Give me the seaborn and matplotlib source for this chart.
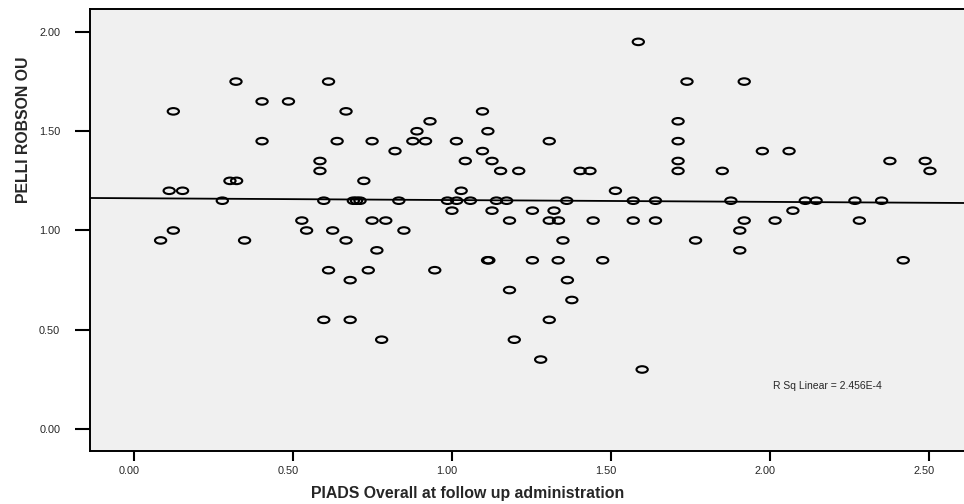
import numpy as np
import pandas as pd
import matplotlib
matplotlib.use("Agg")
import matplotlib.pyplot as plt
import matplotlib.transforms as mtransforms
from matplotlib.path import Path
import seaborn as sns

# ---- data ----
piads = [0.321, 0.403, 0.486, 0.124, 0.403, 0.585, 0.585, 0.302, 0.323, 0.111,
         0.153, 0.278, 0.597, 0.528, 0.543, 0.124, 0.084, 0.348, 0.625, 0.612,
         0.597, 0.612, 0.667, 0.931, 0.890, 1.113, 1.096, 0.639, 0.749, 0.877,
         0.917, 1.014, 1.306, 0.821, 1.096, 1.042, 1.126, 1.153, 1.210, 1.403,
         1.434, 0.723, 1.029, 1.514, 0.690, 0.700, 0.711, 0.833, 0.986, 1.015,
         1.058, 1.140, 1.172, 1.361, 1.000, 1.126, 1.253, 1.321, 0.749, 0.792,
         1.181, 1.306, 1.335, 1.444, 0.849, 0.667, 1.349, 0.764, 1.112, 1.116,
         1.253, 1.334, 1.474, 0.737, 0.946, 0.680, 1.363, 1.181, 1.377, 0.680,
         1.306, 0.779, 1.196, 1.279, 1.586, 1.739, 1.919, 1.711, 1.711, 1.976,
         2.060, 1.711, 1.711, 1.850, 2.377, 2.488, 2.503, 1.570, 1.640, 1.877,
         2.111, 2.145, 2.267, 2.351, 2.072, 1.570, 1.640, 1.919, 2.016, 2.281,
         1.905, 1.766, 1.905, 2.419, 1.598]
pelli = [1.75, 1.65, 1.65, 1.60, 1.45, 1.35, 1.30, 1.25, 1.25, 1.20,
         1.20, 1.15, 1.15, 1.05, 1.00, 1.00, 0.95, 0.95, 1.00, 0.80,
         0.55, 1.75, 1.60, 1.55, 1.50, 1.50, 1.60, 1.45, 1.45, 1.45,
         1.45, 1.45, 1.45, 1.40, 1.40, 1.35, 1.35, 1.30, 1.30, 1.30,
         1.30, 1.25, 1.20, 1.20, 1.15, 1.15, 1.15, 1.15, 1.15, 1.15,
         1.15, 1.15, 1.15, 1.15, 1.10, 1.10, 1.10, 1.10, 1.05, 1.05,
         1.05, 1.05, 1.05, 1.05, 1.00, 0.95, 0.95, 0.90, 0.85, 0.85,
         0.85, 0.85, 0.85, 0.80, 0.80, 0.75, 0.75, 0.70, 0.65, 0.55,
         0.55, 0.45, 0.45, 0.35, 1.95, 1.75, 1.75, 1.55, 1.45, 1.40,
         1.40, 1.35, 1.30, 1.30, 1.35, 1.35, 1.30, 1.15, 1.15, 1.15,
         1.15, 1.15, 1.15, 1.15, 1.10, 1.05, 1.05, 1.05, 1.05, 1.05,
         1.00, 0.95, 0.90, 0.85, 0.30]
x_ticks = [0.0, 0.5, 1.0, 1.5, 2.0, 2.5]
y_ticks = [0.0, 0.5, 1.0, 1.5, 2.0]
x_label = "PIADS Overall at follow up administration"
y_label = "PELLI ROBSON OU"
rsq_text = "R Sq Linear = 2.456E-4"

df = pd.DataFrame({"x": piads, "y": pelli})

sns.set_style("white")
plt.rcParams["font.family"] = ["Liberation Sans", "DejaVu Sans"]

fig = plt.figure(figsize=(9.64, 5.04), dpi=100)
ax = fig.add_axes([90 / 964, 1 - 450.7 / 504, 1 - 90 / 964, (450.7 - 9.5) / 504])
ax.set_facecolor("#f0f0f0")
ax.set_xlim(-0.138, 2.61)
ax.set_ylim(-0.109, 2.113)

ellipse = Path.unit_circle().transformed(mtransforms.Affine2D().scale(1, 0.58))

sns.scatterplot(data=df, x="x", y="y", ax=ax, marker=ellipse, s=66,
                facecolor="none", edgecolor="black", linewidth=1.5, zorder=3)
sns.regplot(data=df, x="x", y="y", ax=ax, scatter=False, ci=None,
            truncate=False, color="black", line_kws={"linewidth": 1.3, "zorder": 2})

ax.set_xlim(-0.138, 2.61)
ax.set_ylim(-0.109, 2.113)
ax.set_xticks(x_ticks)
ax.set_yticks(y_ticks)
ax.set_xticklabels([f"{v:.2f}" for v in x_ticks])
ax.set_yticklabels([f"{v:.2f}" for v in y_ticks])
ax.tick_params(axis="x", direction="out", length=7, width=1.5, pad=4,
               labelsize=7.8, color="black", bottom=True)
ax.tick_params(axis="y", direction="out", length=10.5, width=1.5, pad=11,
               labelsize=7.8, color="black", left=True)
offset = mtransforms.ScaledTranslation(-5 / 100, 0, fig.dpi_scale_trans)
for lab in ax.get_xticklabels():
    lab.set_transform(lab.get_transform() + offset)

for side in ["left", "bottom", "top"]:
    ax.spines[side].set_visible(True)
    ax.spines[side].set_color("black")
    ax.spines[side].set_linewidth(1.4)
ax.spines["right"].set_visible(False)

ax.set_xlabel(x_label, fontsize=11.4, fontweight="bold")
ax.set_ylabel(y_label, fontsize=11.4, fontweight="bold")
ax.xaxis.set_label_coords(0.432, -0.079)
ax.yaxis.set_label_coords(-0.068, 0.727)

ax.text(2.009, 0.218, rsq_text, fontsize=7.5, ha="left", va="center")

fig.savefig("out.png", dpi=100)
